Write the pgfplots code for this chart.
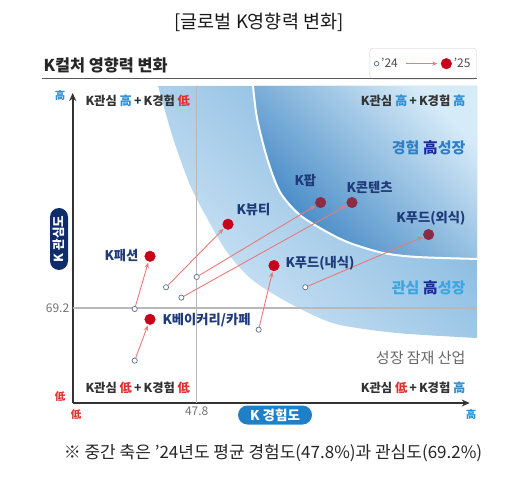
\documentclass[border=0pt]{standalone}
\usepackage{pgfplots}
\pgfplotsset{compat=1.18}
\usepackage{fontspec}
\setmainfont{Noto Sans CJK KR}
\usetikzlibrary{arrows.meta}

\definecolor{navy}{HTML}{1F3A78}
\definecolor{lblue}{HTML}{2A8FD0}
\definecolor{lred}{HTML}{E0302F}
\definecolor{qtxt}{HTML}{333333}
\definecolor{dotred}{HTML}{C8001A}
\definecolor{dotmar}{HTML}{8C2B45}
\definecolor{arr}{HTML}{E87A7A}
\definecolor{ocirc}{HTML}{5A7090}
\definecolor{outerA}{HTML}{CFE5F6}
\definecolor{outerB}{HTML}{7CB3DC}
\definecolor{innerA}{HTML}{D6EBF8}
\definecolor{innerB}{HTML}{3A82C2}
\definecolor{kx}{HTML}{1F80C8}
\definecolor{ky}{HTML}{0F2D6B}
\definecolor{gA}{HTML}{2F7FC4}
\definecolor{gB}{HTML}{38A6E0}
\definecolor{gH}{HTML}{1A2B9B}

\newcommand{\hi}{{\color{lblue}高}}
\newcommand{\lo}{{\color{lred}低}}
\newcommand{\qfont}{\fontsize{12.3}{13}\selectfont\bfseries}
\newcommand{\lfont}{\fontsize{13.3}{14}\selectfont\bfseries}

\pgfplotsset{arrowstyle/.style={arr, line width=0.9pt, shorten <=3pt, shorten >=6.5pt, -{Stealth[length=5.5pt,width=4.5pt]}, forget plot}}

\begin{document}
\begin{tikzpicture}
\useasboundingbox (0,0) rectangle (518pt,495pt);
\begin{axis}[
  at={(72.7pt,92pt)}, anchor=south west, scale only axis,
  width=397pt, height=310pt,
  xmin=30, xmax=87, ymin=60, ymax=90,
  axis lines=left,
  axis line style={line width=1.6pt, color=black!80},
  x axis line style={-{Stealth[length=8pt,width=7pt]}},
  y axis line style={-{Stealth[length=8pt,width=7pt]}},
  xtick={47.8}, xticklabels={47.8},
  ytick={69.2}, yticklabels={69.2},
  major tick length=0pt,
  tick label style={font=\fontsize{12}{13}\selectfont, text=black!55},
  clip=false,
  legend style={at={(1.0176,1.145)}, anchor=north east, draw=black!18, rounded corners=3pt,
    font=\fontsize{12}{13}\selectfont, text=black!70, inner xsep=4pt, inner ysep=8pt,
    /tikz/every even column/.append style={column sep=6pt}},
  legend columns=2,
]
\addlegendimage{legend image code/.code={\draw[ocirc, fill=white, line width=0.7pt] (0,0) circle (2.3pt);}}
\addlegendentry{’24}
\addlegendimage{legend image code/.code={\draw[arr, line width=0.9pt, -{Stealth[length=5pt,width=4pt]}] (0,0) -- (31pt,0); \fill[dotred] (40pt,0) circle (5.3pt);}}
\addlegendentry{’25}

% outer light-blue band
\addplot[draw=none, top color=outerB, bottom color=outerA, shading angle=-45, smooth, forget plot]
 coordinates {(42.25,90.68)(44.40,85.65)(46.84,81.10)(49.28,77.90)(52.15,74.61)(55.46,72.10)(59.76,70.16)(64.50,68.52)(68.38,67.55)(76.56,66.77)(88.05,66.29)}
 -- (axis cs:88.05,90.68) -- cycle;
% inner darker region
\addplot[draw=none, top color=innerA, bottom color=innerB, shading angle=-45, smooth, forget plot]
 coordinates {(55.89,90.68)(56.46,87.58)(57.90,83.71)(59.76,80.42)(62.63,78.19)(66.51,76.55)(69.81,75.48)(74.55,74.52)(79.43,74.13)(88.05,73.94)}
 -- (axis cs:88.05,90.68) -- cycle;
% white boundary
\addplot[white, line width=2pt, smooth, forget plot]
 coordinates {(55.89,90.68)(56.46,87.58)(57.90,83.71)(59.76,80.42)(62.63,78.19)(66.51,76.55)(69.81,75.48)(74.55,74.52)(79.43,74.13)(88.05,73.94)};

% mid lines (2024 averages)
\addplot[black!28, line width=1.3pt, forget plot] coordinates {(47.8,60)(47.8,90.68)};
\addplot[black!28, line width=1.3pt, forget plot] coordinates {(30,69.2)(88.05,69.2)};

% arrows 2024 -> 2025
\addplot[arrowstyle] coordinates {(38.9,69.1)(41.1,74.2)};
\addplot[arrowstyle] coordinates {(38.9,64.1)(41.1,68.1)};
\addplot[arrowstyle] coordinates {(43.4,71.2)(52.3,77.3)};
\addplot[arrowstyle] coordinates {(47.8,72.2)(65.6,79.4)};
\addplot[arrowstyle] coordinates {(45.6,70.2)(70.1,79.4)};
\addplot[arrowstyle] coordinates {(56.7,67.1)(58.9,73.3)};
\addplot[arrowstyle] coordinates {(63.4,71.2)(81.1,76.3)};

% 2024 points
\addplot[only marks, mark=*, mark size=2.6pt, mark options={fill=white, draw=ocirc, line width=0.7pt}, forget plot]
 coordinates {(38.9,69.1)(38.9,64.1)(43.4,71.2)(47.8,72.2)(45.6,70.2)(56.7,67.1)(63.4,71.2)};
% 2025 points
\addplot[only marks, mark=*, mark size=5.3pt, color=dotred, forget plot]
 coordinates {(41.1,74.2)(41.1,68.1)(52.3,77.3)(58.9,73.3)};
\addplot[only marks, mark=*, mark size=5.3pt, color=dotmar, forget plot]
 coordinates {(65.6,79.4)(70.1,79.4)(81.1,76.3)};
\end{axis}

\begin{scope}[x=1pt, y=-1pt, yshift=495pt]
\node[font=\fontsize{18.5}{20}\selectfont, text=black!90] at (259,22) {[글로벌 K영향력 변화]};
\node[anchor=west, font=\fontsize{16.3}{18}\selectfont\bfseries, text=black!85] at (40,65) {K컬처 영향력 변화};
\draw[black!65, line width=1pt] (42,79) -- (477,79);

% quadrant captions
\node[anchor=west, font=\qfont, text=qtxt] at (82,101) {K관심 \hi\,+\,K경험 \lo};
\node[anchor=east, font=\qfont, text=qtxt] at (469,101) {K관심 \hi\,+\,K경험 \hi};
\node[anchor=west, font=\qfont, text=qtxt] at (82,388) {K관심 \lo\,+\,K경험 \lo};
\node[anchor=east, font=\qfont, text=qtxt] at (469,388) {K관심 \lo\,+\,K경험 \hi};
\node[anchor=east, font=\fontsize{15}{16}\selectfont\bfseries, text=gA] at (469,148) {경험 {\color{gH}高}성장};
\node[anchor=east, font=\fontsize{15}{16}\selectfont\bfseries, text=gB] at (469,288) {관심 {\color{gH}高}성장};
\node[anchor=east, font=\fontsize{15}{16}\selectfont, text=black!60] at (469,358) {성장 잠재 산업};

% point labels
\node[anchor=east, font=\lfont, text=navy] at (142,256) {K패션};
\node[anchor=west, font=\lfont, text=navy] at (159,320) {K베이커리/카페};
\node[anchor=west, font=\lfont, text=navy] at (233,210) {K뷰티};
\node[anchor=west, font=\lfont, text=navy] at (291,180) {K팝};
\node[anchor=west, font=\lfont, text=navy] at (343,187) {K콘텐츠};
\node[anchor=east, font=\lfont, text=navy] at (469,218) {K푸드(외식)};
\node[anchor=west, font=\lfont, text=navy] at (282,263) {K푸드(내식)};

% axis end labels
\node[text=lblue, font=\fontsize{10.5}{11}\selectfont\bfseries] at (60,96) {高};
\node[text=lred, font=\fontsize{10.5}{11}\selectfont\bfseries] at (60,397) {低};
\node[text=lred, font=\fontsize{10.5}{11}\selectfont\bfseries] at (76,415) {低};
\node[text=lblue, font=\fontsize{10.5}{11}\selectfont\bfseries] at (471,415) {高};

% axis title boxes
\node[rotate=90, fill=ky, text=white, rounded corners=9pt, minimum width=62pt, minimum height=18pt, inner sep=0pt, font=\fontsize{12.5}{13}\selectfont\bfseries] at (59,239) {K 관심도};
\node[fill=kx, text=white, rounded corners=9.5pt, minimum width=74pt, minimum height=19pt, inner sep=0pt, font=\fontsize{13.5}{14}\selectfont\bfseries] at (275,415) {K 경험도};

\node[font=\fontsize{17}{18}\selectfont, text=black!85] at (273,453) {※ 중간 축은 ’24년도 평균 경험도(47.8\%)과 관심도(69.2\%)};
\end{scope}
\end{tikzpicture}
\end{document}
